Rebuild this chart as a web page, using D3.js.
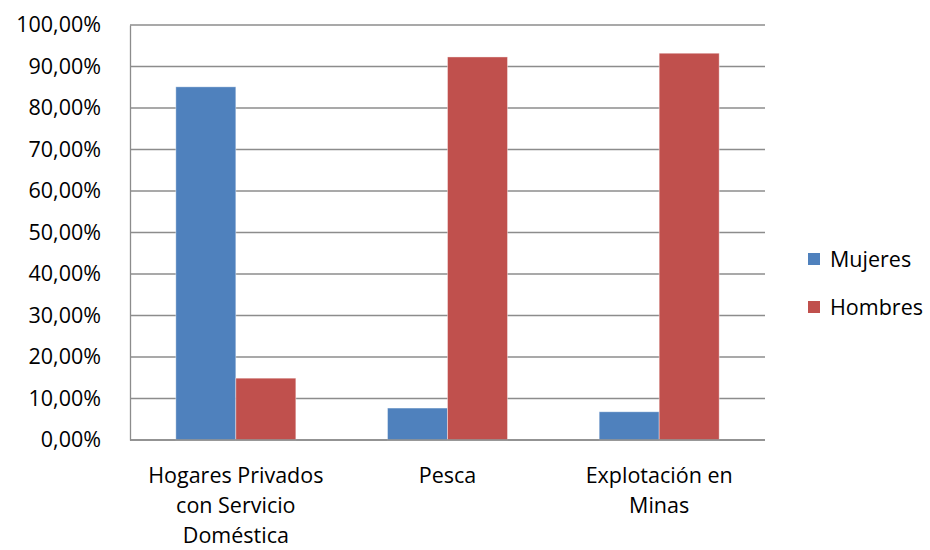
<!DOCTYPE html>
<html>
<head>
<meta charset="utf-8">
<script src="https://cdn.jsdelivr.net/npm/d3@7"></script>
<style>
  html, body { margin: 0; padding: 0; background: #fff; }
  svg { display: block; font-family: "Open Sans", "Noto Sans", sans-serif; }
</style>
</head>
<body>
<svg id="chart" width="930" height="550"></svg>
<script>
// Sector categories (each label split into display lines)
const categories = ["Hogares Privados con Servicio Doméstica", "Pesca", "Explotación en Minas"];
const categoryLines = [
  ["Hogares Privados", "con Servicio", "Doméstica"],
  ["Pesca"],
  ["Explotación en", "Minas"]
];
// Share of workers by sex (%)
const mujeres = [85.1, 7.7, 6.8];
const hombres = [14.9, 92.3, 93.2];
const seriesNames = ["Mujeres", "Hombres"];
const seriesColors = ["#4F81BD", "#C0504D"];
const yTicks = [0, 10, 20, 30, 40, 50, 60, 70, 80, 90, 100];

const FONT = 21.5;
const svg = d3.select("#chart");
const margin = { left: 130, right: 165, top: 25, bottom: 110 };
const W = 930, H = 550;
const x0 = margin.left, x1 = W - margin.right;
const yTop = margin.top, yBot = H - margin.bottom;

const x = d3.scaleBand().domain(categories).range([x0, x1]).paddingInner(0.433).paddingOuter(0.2165);
const xs = d3.scaleBand().domain(seriesNames).range([0, x.bandwidth()]);
const y = d3.scaleLinear().domain([0, 100]).range([yBot, yTop]);

const fmt = v => v.toFixed(2).replace(".", ",") + "%";

// Gridlines
svg.append("g")
  .selectAll("line")
  .data(yTicks)
  .join("line")
  .attr("x1", x0).attr("x2", x1)
  .attr("y1", d => y(d)).attr("y2", d => y(d))
  .attr("stroke", "#8c8c8c").attr("stroke-width", 1.3);

// Y axis
const yAxis = svg.append("g")
  .attr("transform", `translate(${x0},0)`)
  .call(d3.axisLeft(y).tickValues(yTicks).tickFormat(fmt).tickSize(0).tickPadding(29));
yAxis.select(".domain").attr("stroke", "#8c8c8c").attr("stroke-width", 1.3);
yAxis.selectAll("text").attr("font-size", FONT).attr("fill", "#000")
  .attr("font-family", "'Open Sans', 'Noto Sans', sans-serif");

// Bars
const rows = categories.map((c, i) => ({ c, vals: [mujeres[i], hombres[i]] }));
const groups = svg.append("g").selectAll("g")
  .data(rows).join("g")
  .attr("transform", d => `translate(${x(d.c)},0)`);
groups.selectAll("rect")
  .data(d => d.vals.map((v, k) => ({ s: seriesNames[k], v, k })))
  .join("rect")
  .attr("x", d => xs(d.s))
  .attr("width", xs.bandwidth())
  .attr("y", d => y(d.v))
  .attr("height", d => y(0) - y(d.v))
  .attr("fill", d => seriesColors[d.k])
  .attr("stroke", "rgba(255,255,255,0.5)")
  .attr("stroke-width", 0.8);

// X axis baseline
svg.append("line")
  .attr("x1", x0).attr("x2", x1)
  .attr("y1", yBot).attr("y2", yBot)
  .attr("stroke", "#8c8c8c").attr("stroke-width", 1.3);

// Category labels
const xl = svg.append("g").selectAll("text")
  .data(categories).join("text")
  .attr("x", d => x(d) + x.bandwidth() / 2)
  .attr("y", 483)
  .attr("text-anchor", "middle")
  .attr("font-size", FONT)
  .attr("fill", "#000");
xl.each(function (d, i) {
  d3.select(this).selectAll("tspan")
    .data(categoryLines[i]).join("tspan")
    .attr("x", x(d) + x.bandwidth() / 2)
    .attr("dy", (t, j) => j === 0 ? 0 : 30)
    .text(t => t);
});

// Legend
const legend = svg.append("g").selectAll("g")
  .data(seriesNames).join("g")
  .attr("transform", (d, i) => `translate(808,${253 + i * 48})`);
legend.append("rect").attr("width", 12).attr("height", 12)
  .attr("fill", (d, i) => seriesColors[i]);
legend.append("text")
  .attr("x", 22).attr("y", 14)
  .attr("font-size", FONT).attr("fill", "#000")
  .text(d => d);
</script>
</body>
</html>
